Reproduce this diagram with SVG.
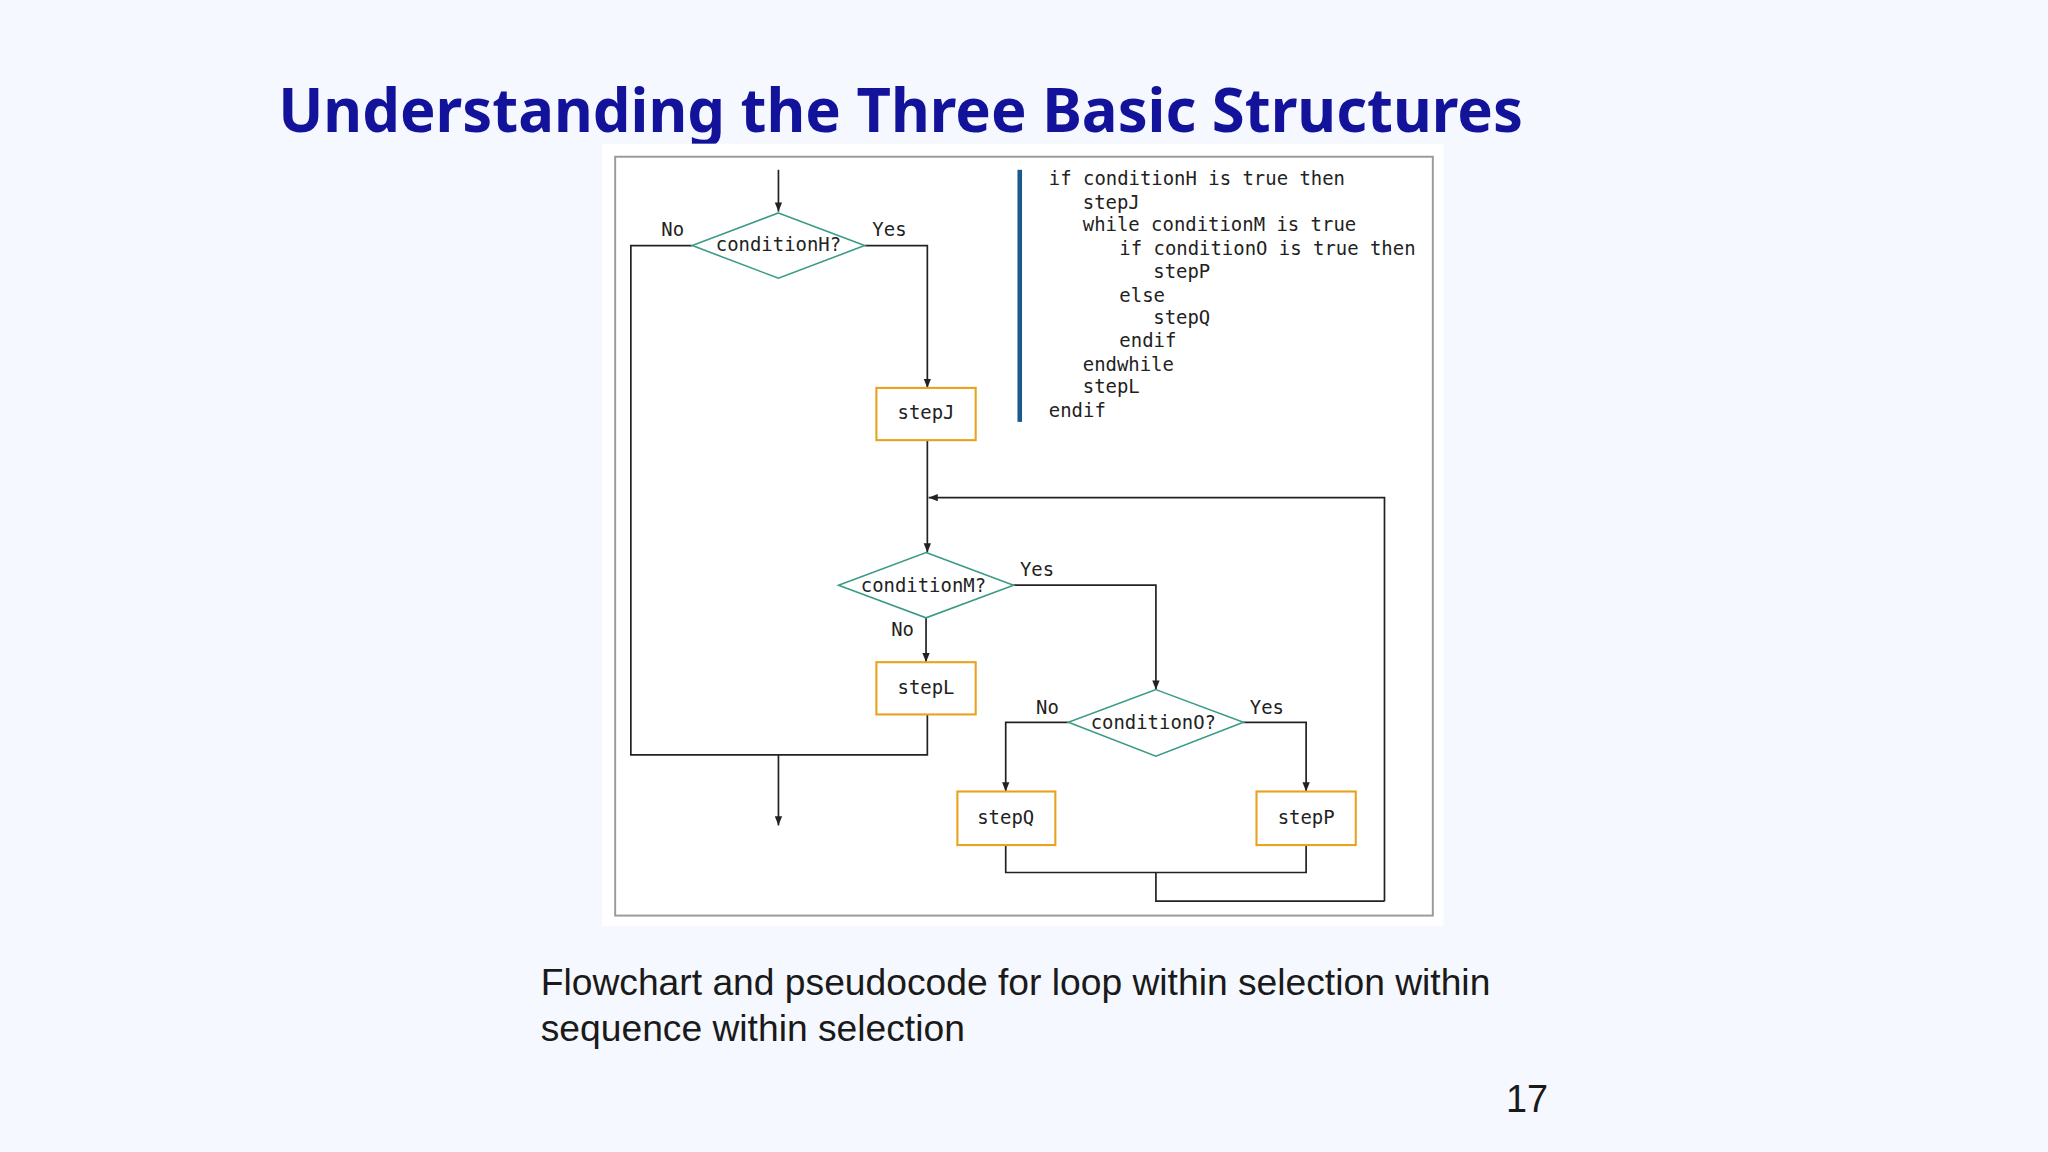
<svg xmlns="http://www.w3.org/2000/svg" width="2048" height="1152" viewBox="0 0 2048 1152">
<defs>
<marker id="ah" viewBox="0 0 10 10" refX="10" refY="5" markerWidth="7" markerHeight="7" markerUnits="userSpaceOnUse" orient="auto"><path d="M0,1 L10,5 L0,9 z" fill="#222"/></marker>
<style>
.ln{fill:none;stroke:#222;stroke-width:1.3}
.ar{fill:none;stroke:#222;stroke-width:1.3;marker-end:url(#ah)}
.dm{fill:#fff;stroke:#3a9a86;stroke-width:1.2}
.bx{fill:#fff;stroke:#e8a21e;stroke-width:1.6}
.t{font-family:"DejaVu Sans Mono",monospace;font-size:14.5px;fill:#222}
.m{text-anchor:middle}
</style>
</defs>
<rect width="2048" height="1152" fill="#f5f8fe"/>
<g transform="scale(1.30612)">
<text x="213" y="101" font-family="Noto Sans, sans-serif" font-weight="bold" font-size="46" fill="#12129a" textLength="953" lengthAdjust="spacingAndGlyphs">Understanding the Three Basic Structures</text>
<rect x="461" y="110" width="644" height="599" fill="#fff"/>
<rect x="471" y="120" width="626" height="581" fill="#fff" stroke="#9a9a9a" stroke-width="1.5"/>
<g id="connectors">
<path class="ar" d="M596,130 V162"/>
<path class="ln" d="M530,188 H483 V578 H710 V547"/>
<path class="ar" d="M662,188 H710 V297"/>
<path class="ar" d="M710,337 V423"/>
<path class="ar" d="M1060,690 V381 H711"/>
<path class="ar" d="M776,448 H885 V528"/>
<path class="ar" d="M709,473 V507"/>
<path class="ar" d="M818,553 H770 V606"/>
<path class="ar" d="M952,553 H1000 V606"/>
<path class="ln" d="M770,647 V668 H1000 V647"/>
<path class="ln" d="M885,668 V690 H1060"/>
<path class="ar" d="M596,578 V632"/>
</g>
<g id="condH"><polygon class="dm" points="596,163 662,188 596,213 530,188"/><text class="t m" x="596" y="192">conditionH?</text></g>
<g id="stepJ"><rect class="bx" x="671" y="297" width="76" height="40"/><text class="t m" x="709" y="321">stepJ</text></g>
<g id="condM"><polygon class="dm" points="709,423 776,448 709,473 642,448"/><text class="t m" x="707" y="453">conditionM?</text></g>
<g id="stepL"><rect class="bx" x="671" y="507" width="76" height="40"/><text class="t m" x="709" y="531">stepL</text></g>
<g id="condO"><polygon class="dm" points="885,528 952,553 885,579 818,553"/><text class="t m" x="883" y="558">conditionO?</text></g>
<g id="stepQ"><rect class="bx" x="733" y="606" width="75" height="41"/><text class="t m" x="770" y="631">stepQ</text></g>
<g id="stepP"><rect class="bx" x="962" y="606" width="76" height="41"/><text class="t m" x="1000" y="631">stepP</text></g>
<g id="labels">
<text class="t m" x="515" y="181">No</text><text class="t m" x="681" y="181">Yes</text>
<text class="t m" x="794" y="441">Yes</text><text class="t m" x="691" y="487">No</text>
<text class="t m" x="802" y="547">No</text><text class="t m" x="970" y="547">Yes</text>
</g>
<g id="code">
<rect x="779" y="130" width="3.5" height="193" fill="#1a5a8a"/>
<text class="t" x="803" y="142">if conditionH is true then</text>
<text class="t" x="829" y="160">stepJ</text>
<text class="t" x="829" y="177">while conditionM is true</text>
<text class="t" x="857" y="195">if conditionO is true then</text>
<text class="t" x="883" y="213">stepP</text>
<text class="t" x="857" y="231">else</text>
<text class="t" x="883" y="248">stepQ</text>
<text class="t" x="857" y="266">endif</text>
<text class="t" x="829" y="284">endwhile</text>
<text class="t" x="829" y="301">stepL</text>
<text class="t" x="803" y="319">endif</text>
</g>
<text x="414" y="762" font-family="Liberation Sans, sans-serif" font-size="28.5" fill="#1a1a1a">Flowchart and pseudocode for loop within selection within</text>
<text x="414" y="797" font-family="Liberation Sans, sans-serif" font-size="28.5" fill="#1a1a1a">sequence within selection</text>
<text x="1153" y="851" font-family="Liberation Sans, sans-serif" font-size="29" fill="#1a1a1a">17</text>
</g>
</svg>
